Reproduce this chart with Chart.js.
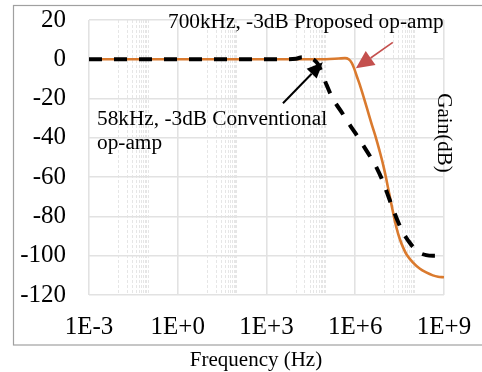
<!DOCTYPE html>
<html>
<head>
<meta charset="utf-8">
<script src="https://cdn.jsdelivr.net/npm/chart.js@4.4.0/dist/chart.umd.min.js"></script>
<style>
html,body{margin:0;padding:0;background:#fff;}
#c{display:block;}
</style>
</head>
<body>
<canvas id="c" width="482" height="372"></canvas>
<script>
// ---- data ----
const majorFreqTicks = [1e-3, 1e0, 1e3, 1e6, 1e9];
const minorFreqTicks = [
  1e-2,2e-2,3e-2,4e-2,5e-2,6e-2,7e-2,8e-2,9e-2,1e-1,
  1e1,2e1,3e1,4e1,5e1,6e1,7e1,8e1,9e1,1e2,
  1e4,2e4,3e4,4e4,5e4,6e4,7e4,8e4,9e4,1e5,
  1e7,2e7,3e7,4e7,5e7,6e7,7e7,8e7,9e7,1e8
];
const gainTicks = [20, 0, -20, -40, -60, -80, -100, -120];

const convFreq = [1e-3, 3e3, 1e4, 1.6e4, 2.8e4, 4.2e4, 5.8e4, 8e4, 1.07e5, 1.74e5, 3.5e5, 6.6e5, 1e6, 1.8e6, 3.2e6, 5.4e6, 8.5e6, 1.26e7, 1.86e7, 2.75e7, 4.2e7, 6.3e7, 9e7, 1.5e8, 2.5e8, 4.2e8, 1e9];
const convGain = [0, 0, 0.3, 1.0, 0.6, -0.5, -3, -8, -13, -20, -27, -33.5, -37.5, -43.5, -49.5, -55.5, -62, -69, -76, -82.5, -88.5, -92.5, -95.5, -98.5, -99.7, -100, -100];

const propFreq = [1e-3, 1e5, 2.8e5, 4.5e5, 6.0e5, 7.6e5, 9.1e5, 1.12e6, 1.43e6, 1.9e6, 2.5e6, 3.5e6, 5.0e6, 6.6e6, 8.7e6, 1.12e7, 1.41e7, 1.9e7, 2.5e7, 3.2e7, 4.2e7, 5.5e7, 9e7, 1.5e8, 2.5e8, 4.2e8, 6.3e8, 1e9];
const propGain = [0, 0, 0.4, 0.6, 0, -1.8, -4.5, -8.5, -13, -19, -25, -32.5, -40, -46.5, -53.5, -61, -68.5, -78, -86, -91.5, -96, -99.5, -103.5, -106.5, -108.5, -110, -110.7, -111];

const seriesNames = ['Conventional op-amp', 'Proposed op-amp'];
const xTitle = 'Frequency (Hz)';
const yTitle = 'Gain(dB)';
const noteProposed = '700kHz, -3dB Proposed op-amp';
const noteConv1 = '58kHz, -3dB Conventional';
const noteConv2 = 'op-amp';

// ---- build ----
const toXY = (xs, ys) => xs.map((x, i) => ({x: x, y: ys[i]}));
const SERIF = "'Liberation Serif', 'Times New Roman', serif";

const fmtTick = v => {
  const e = Math.round(Math.log10(v));
  return '1E' + (e < 0 ? '-' : '+') + Math.abs(e);
};

const decorPlugin = {
  id: 'decor',
  beforeDraw(chart) {
    const ctx = chart.ctx;
    ctx.save();
    ctx.fillStyle = '#fff';
    ctx.fillRect(0, 0, chart.width, chart.height);
    ctx.strokeStyle = '#a0a0a0';
    ctx.lineWidth = 1.2;
    ctx.strokeRect(13.5, 5.5, 490, 339.5);
    ctx.restore();
  },
  afterDatasetsDraw(chart) {
    const ctx = chart.ctx;
    const xs = chart.scales.x, ys = chart.scales.y;
    const px = v => xs.getPixelForValue(v), py = v => ys.getPixelForValue(v);
    ctx.save();
    // arrows (anchored in data units)
    const arrow = (f1, g1, f2, g2, color, lw, hl, hw) => {
      const x1 = px(f1), y1 = py(g1), x2 = px(f2), y2 = py(g2);
      const a = Math.atan2(y2 - y1, x2 - x1);
      const bx = x2 - hl * Math.cos(a), by = y2 - hl * Math.sin(a);
      ctx.strokeStyle = color; ctx.fillStyle = color; ctx.lineWidth = lw;
      ctx.beginPath(); ctx.moveTo(x1, y1); ctx.lineTo(bx, by); ctx.stroke();
      ctx.beginPath();
      ctx.moveTo(x2, y2);
      ctx.lineTo(bx + hw * Math.sin(a), by - hw * Math.cos(a));
      ctx.lineTo(bx - hw * Math.sin(a), by + hw * Math.cos(a));
      ctx.closePath(); ctx.fill();
    };
    arrow(3.6e3, -22.4, 8.0e4, -1.5, '#000000', 2, 16, 7);
    arrow(1.86e7, 8.6, 1.05e6, -4.6, '#C4504E', 1.6, 18, 8.5);

    ctx.fillStyle = '#000';
    ctx.textAlign = 'left';
    ctx.textBaseline = 'alphabetic';
    ctx.font = '21.3px ' + SERIF;
    ctx.fillText(noteProposed, 168, 28);
    ctx.fillText(noteConv1, 97, 125);
    ctx.fillText(noteConv2, 97, 149);

    ctx.font = '21px ' + SERIF;
    ctx.textAlign = 'center';
    ctx.fillText(xTitle, 256, 366);

    ctx.save();
    ctx.translate(444, 133);
    ctx.rotate(Math.PI / 2);
    ctx.textAlign = 'center';
    ctx.textBaseline = 'middle';
    ctx.fillText(yTitle, 0, 0);
    ctx.restore();
    ctx.restore();
  }
};

new Chart(document.getElementById('c'), {
  type: 'scatter',
  data: {
    datasets: [
      {
        label: seriesNames[0],
        data: toXY(convFreq, convGain),
        showLine: true,
        borderColor: '#000000',
        borderWidth: 4,
        borderDash: [13, 12],
        borderCapStyle: 'butt',
        pointRadius: 0,
        cubicInterpolationMode: 'monotone'
      },
      {
        label: seriesNames[1],
        data: toXY(propFreq, propGain),
        showLine: true,
        borderColor: '#DA7A2E',
        borderWidth: 2.6,
        pointRadius: 0,
        cubicInterpolationMode: 'monotone'
      }
    ]
  },
  options: {
    responsive: false,
    animation: false,
    devicePixelRatio: 1,
    layout: { padding: { left: 0, top: 20, right: 38, bottom: 0 } },
    plugins: { legend: { display: false }, tooltip: { enabled: false } },
    scales: {
      x: {
        type: 'logarithmic',
        position: 'bottom',
        min: 1e-3, max: 1e9,
        afterBuildTicks: s => { s.ticks = majorFreqTicks.map(v => ({value: v, major: true})); },
        afterFit: s => { s.height = 77; s.paddingLeft = 0; s.paddingRight = 0; },
        ticks: {
          callback: v => fmtTick(v),
          autoSkip: false, maxRotation: 0, padding: 17,
          color: '#000', font: { family: SERIF, size: 25 }
        },
        grid: { color: '#e2e2e2', lineWidth: 1.6, drawTicks: false },
        border: { display: false }
      },
      x2: {
        type: 'logarithmic',
        position: 'bottom',
        min: 1e-3, max: 1e9,
        afterBuildTicks: s => { s.ticks = minorFreqTicks.map(v => ({value: v})); },
        afterFit: s => { s.height = 0; s.paddingLeft = 0; s.paddingRight = 0; },
        ticks: { display: false },
        grid: { color: '#e6e6e6', lineWidth: 1, drawTicks: false },
        border: { display: false, dash: [3, 2] }
      },
      y: {
        type: 'linear',
        min: -120, max: 20,
        afterBuildTicks: s => { s.ticks = gainTicks.map(v => ({value: v})); },
        afterFit: s => { s.width = 89; s.paddingTop = 0; s.paddingBottom = 0; },
        ticks: {
          padding: 23, color: '#000',
          font: { family: SERIF, size: 25 }
        },
        grid: { color: '#e2e2e2', lineWidth: 1.6, drawTicks: false },
        border: { display: false }
      }
    }
  },
  plugins: [decorPlugin]
});
</script>
</body>
</html>
